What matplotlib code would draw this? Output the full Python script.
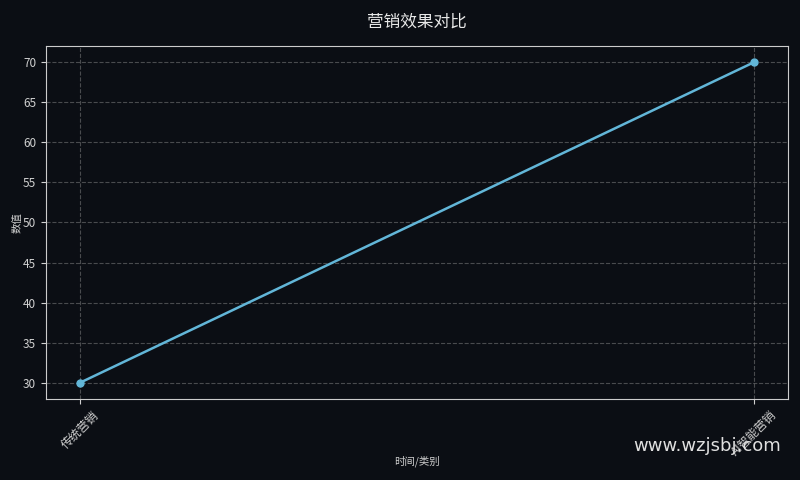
import matplotlib
matplotlib.use("Agg")
import matplotlib.pyplot as plt

plt.rcParams['font.family'] = ['Noto Sans CJK SC', 'DejaVu Sans']

categories = ['传统营销', 'AI智能营销']
values = [30, 70]

bg = '#0b0e14'
fig = plt.figure(figsize=(8, 4.8), dpi=100, facecolor=bg)
ax = fig.add_axes([0.0575, 0.169, 0.9275, 0.735], facecolor=bg)

ax.plot(categories, values, color='#62b6d8', linewidth=1.8, marker='o', markersize=5)

ax.set_title('营销效果对比', color='#e8e8e8', fontsize=12, pad=14)
ax.set_xlabel('时间/类别', color='#d0d0d0', fontsize=7.5, labelpad=-2)
ax.set_ylabel('数值', color='#d0d0d0', fontsize=7.5, labelpad=0.5)
ax.set_yticks(range(30, 71, 5))
ax.tick_params(colors='#d0d0d0', labelsize=8.5)
plt.setp(ax.get_xticklabels(), rotation=45)
ax.grid(True, linestyle='--', color='#888888', alpha=0.5, linewidth=0.8)
for s in ax.spines.values():
    s.set_color('#cccccc')

fig.text(0.792, 0.07, 'www.wzjsbj.com', color='#e0e0e0', fontsize=13,
         ha='left', va='center', family=['DejaVu Sans'])

fig.savefig('out.png', facecolor=bg)
